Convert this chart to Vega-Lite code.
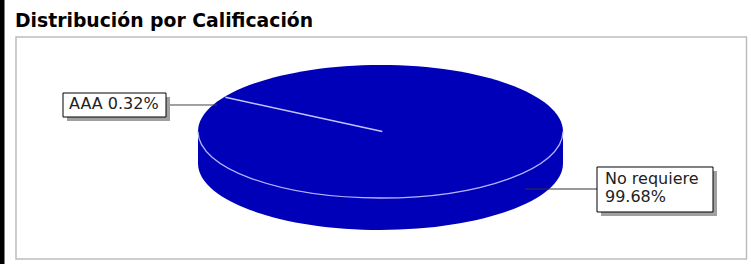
{
  "$schema": "https://vega.github.io/schema/vega-lite/v6.json",
  "width": 751,
  "height": 264,
  "autosize": "none",
  "padding": 0,
  "background": "white",
  "config": {"view": {"stroke": null}},
  "datasets": {
    "calificacion": [
      {"categoria": "AAA", "porcentaje": 0.32},
      {"categoria": "No requiere", "porcentaje": 99.68}
    ],
    "marco": [{"elemento": "marco"}]
  },
  "data": {"name": "calificacion"},
  "transform": [
    {"calculate": "datum.categoria + ' ' + format(datum.porcentaje, '.2f') + '%'", "as": "etiqueta"},
    {"calculate": "datum.categoria + '\\n' + format(datum.porcentaje, '.2f') + '%'", "as": "etiqueta2"}
  ],
  "layer": [
    {
      "data": {"name": "marco"},
      "mark": {"type": "rect", "color": "black"},
      "encoding": {
        "x": {"datum": -2.0849, "type": "quantitative", "scale": {"domain": [-2.0849, 2.0301], "nice": false, "zero": false}, "axis": null},
        "x2": {"datum": -2.0603},
        "y": {"datum": 1.9774, "type": "quantitative", "scale": {"domain": [-1.9925, 1.9774], "nice": false, "zero": false}, "axis": null},
        "y2": {"datum": -1.9925}
      }
    },
    {
      "data": {"name": "marco"},
      "mark": {"type": "rect", "fill": null, "fillOpacity": 0, "stroke": "#BDBDBD", "strokeWidth": 1.5},
      "encoding": {
        "x": {"datum": -1.9973, "type": "quantitative", "scale": {"domain": [-2.0849, 2.0301], "nice": false, "zero": false}, "axis": null},
        "x2": {"datum": 2.0055},
        "y": {"datum": 1.4211, "type": "quantitative", "scale": {"domain": [-1.9925, 1.9774], "nice": false, "zero": false}, "axis": null},
        "y2": {"datum": -1.9173}
      }
    },
    {
      "data": {"name": "marco"},
      "mark": {"type": "text", "text": "Distribución por Calificación", "align": "left", "baseline": "alphabetic", "font": "DejaVu Sans", "fontWeight": "bold", "fontSize": 18.8, "color": "black"},
      "encoding": {
        "x": {"datum": -2.0027, "type": "quantitative", "scale": {"domain": [-2.0849, 2.0301], "nice": false, "zero": false}, "axis": null},
        "y": {"datum": 1.5714, "type": "quantitative", "scale": {"domain": [-1.9925, 1.9774], "nice": false, "zero": false}, "axis": null}
      }
    },
    {
      "transform": [{"filter": "datum.categoria === 'No requiere'"}],
      "mark": {"type": "point", "filled": true, "opacity": 1, "color": "#0000B8", "size": 133225, "shape": "M-1,0 L-1,0.17534 C-1,0.37659 -0.5523,0.53972 0,0.53972 C0.5523,0.53972 1,0.37659 1,0.17534 L1,0 Z"},
      "encoding": {
        "x": {"datum": 0, "type": "quantitative", "scale": {"domain": [-2.0849, 2.0301], "nice": false, "zero": false}, "axis": null},
        "y": {"datum": 0, "type": "quantitative", "scale": {"domain": [-1.9925, 1.9774], "nice": false, "zero": false}, "axis": null}
      }
    },
    {
      "transform": [{"filter": "datum.categoria === 'No requiere'"}],
      "mark": {"type": "point", "filled": true, "opacity": 1, "color": "#0000B8", "size": 133225, "shape": "M1,0 C1,0.20125 0.5523,0.36438 0,0.36438 C-0.5523,0.36438 -1,0.20125 -1,0 C-1,-0.20125 -0.5523,-0.36438 0,-0.36438 C0.5523,-0.36438 1,-0.20125 1,0 Z"},
      "encoding": {
        "x": {"datum": 0, "type": "quantitative", "scale": {"domain": [-2.0849, 2.0301], "nice": false, "zero": false}, "axis": null},
        "y": {"datum": 0, "type": "quantitative", "scale": {"domain": [-1.9925, 1.9774], "nice": false, "zero": false}, "axis": null}
      }
    },
    {
      "transform": [{"filter": "datum.categoria === 'No requiere'"}],
      "mark": {"type": "point", "filled": false, "opacity": 1, "stroke": "#B4B4FF", "strokeWidth": 1.3, "size": 133225, "shape": "M-1,0 C-1,0.20125 -0.5523,0.36438 0,0.36438 C0.5523,0.36438 1,0.20125 1,0"},
      "encoding": {
        "x": {"datum": 0, "type": "quantitative", "scale": {"domain": [-2.0849, 2.0301], "nice": false, "zero": false}, "axis": null},
        "y": {"datum": 0, "type": "quantitative", "scale": {"domain": [-1.9925, 1.9774], "nice": false, "zero": false}, "axis": null}
      }
    },
    {
      "transform": [{"filter": "datum.categoria === 'AAA'"}],
      "mark": {"type": "rule", "color": "#C4C4FF", "strokeWidth": 1.5},
      "encoding": {
        "x": {"datum": 0.01, "type": "quantitative", "scale": {"domain": [-2.0849, 2.0301], "nice": false, "zero": false}, "axis": null},
        "x2": {"datum": -0.85},
        "y": {"datum": 0.0, "type": "quantitative", "scale": {"domain": [-1.9925, 1.9774], "nice": false, "zero": false}, "axis": null},
        "y2": {"datum": 0.515}
      }
    },
    {
      "transform": [{"filter": "datum.categoria === 'AAA'"}],
      "mark": {"type": "rule", "color": "#444444", "strokeWidth": 1},
      "encoding": {
        "x": {"datum": -1.1753, "type": "quantitative", "scale": {"domain": [-2.0849, 2.0301], "nice": false, "zero": false}, "axis": null},
        "x2": {"datum": -0.8959},
        "y": {"datum": 0.3985, "type": "quantitative", "scale": {"domain": [-1.9925, 1.9774], "nice": false, "zero": false}, "axis": null}
      }
    },
    {
      "transform": [{"filter": "datum.categoria === 'No requiere'"}],
      "mark": {"type": "rule", "color": "#333333", "strokeWidth": 1},
      "encoding": {
        "x": {"datum": 0.7918, "type": "quantitative", "scale": {"domain": [-2.0849, 2.0301], "nice": false, "zero": false}, "axis": null},
        "x2": {"datum": 1.1863},
        "y": {"datum": -0.8647, "type": "quantitative", "scale": {"domain": [-1.9925, 1.9774], "nice": false, "zero": false}, "axis": null}
      }
    },
    {
      "transform": [{"filter": "datum.categoria === 'AAA'"}],
      "mark": {"type": "rect", "color": "#A0A0A0"},
      "encoding": {
        "x": {"datum": -1.7178, "type": "quantitative", "scale": {"domain": [-2.0849, 2.0301], "nice": false, "zero": false}, "axis": null},
        "x2": {"datum": -1.1534},
        "y": {"datum": 0.5188, "type": "quantitative", "scale": {"domain": [-1.9925, 1.9774], "nice": false, "zero": false}, "axis": null},
        "y2": {"datum": 0.1579}
      }
    },
    {
      "transform": [{"filter": "datum.categoria === 'AAA'"}],
      "mark": {"type": "rect", "fill": "white", "stroke": "black", "strokeWidth": 1},
      "encoding": {
        "x": {"datum": -1.7397, "type": "quantitative", "scale": {"domain": [-2.0849, 2.0301], "nice": false, "zero": false}, "axis": null},
        "x2": {"datum": -1.1753},
        "y": {"datum": 0.5789, "type": "quantitative", "scale": {"domain": [-1.9925, 1.9774], "nice": false, "zero": false}, "axis": null},
        "y2": {"datum": 0.2180}
      }
    },
    {
      "transform": [{"filter": "datum.categoria === 'No requiere'"}],
      "mark": {"type": "rect", "color": "#A0A0A0"},
      "encoding": {
        "x": {"datum": 1.2082, "type": "quantitative", "scale": {"domain": [-2.0849, 2.0301], "nice": false, "zero": false}, "axis": null},
        "x2": {"datum": 1.8438},
        "y": {"datum": -0.5940, "type": "quantitative", "scale": {"domain": [-1.9925, 1.9774], "nice": false, "zero": false}, "axis": null},
        "y2": {"datum": -1.2707}
      }
    },
    {
      "transform": [{"filter": "datum.categoria === 'No requiere'"}],
      "mark": {"type": "rect", "fill": "white", "stroke": "black", "strokeWidth": 1},
      "encoding": {
        "x": {"datum": 1.1863, "type": "quantitative", "scale": {"domain": [-2.0849, 2.0301], "nice": false, "zero": false}, "axis": null},
        "x2": {"datum": 1.8219},
        "y": {"datum": -0.5338, "type": "quantitative", "scale": {"domain": [-1.9925, 1.9774], "nice": false, "zero": false}, "axis": null},
        "y2": {"datum": -1.2105}
      }
    },
    {
      "transform": [{"filter": "datum.categoria === 'AAA'"}],
      "mark": {"type": "text", "align": "left", "baseline": "alphabetic", "font": "DejaVu Sans", "fontSize": 16, "color": "#222222"},
      "encoding": {
        "text": {"field": "etiqueta"},
        "x": {"datum": -1.7068, "type": "quantitative", "scale": {"domain": [-2.0849, 2.0301], "nice": false, "zero": false}, "axis": null},
        "y": {"datum": 0.3308, "type": "quantitative", "scale": {"domain": [-1.9925, 1.9774], "nice": false, "zero": false}, "axis": null}
      }
    },
    {
      "transform": [{"filter": "datum.categoria === 'No requiere'"}],
      "mark": {"type": "text", "align": "left", "baseline": "alphabetic", "font": "DejaVu Sans", "fontSize": 16, "lineBreak": "\n", "lineHeight": 18.5, "color": "#222222"},
      "encoding": {
        "text": {"field": "etiqueta2"},
        "x": {"datum": 1.2301, "type": "quantitative", "scale": {"domain": [-2.0849, 2.0301], "nice": false, "zero": false}, "axis": null},
        "y": {"datum": -0.7820, "type": "quantitative", "scale": {"domain": [-1.9925, 1.9774], "nice": false, "zero": false}, "axis": null}
      }
    }
  ]
}
